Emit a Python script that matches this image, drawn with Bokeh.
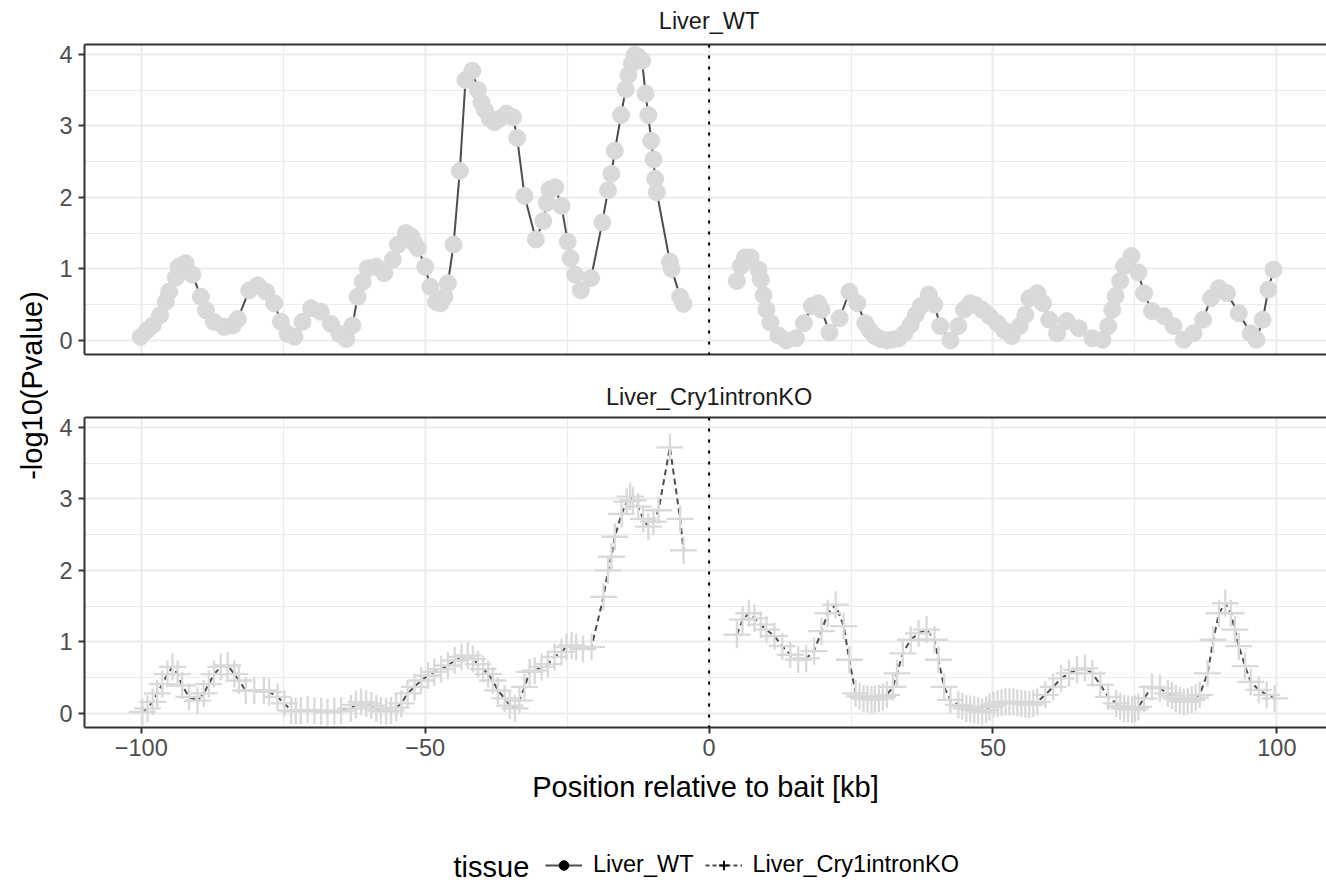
import math
from bokeh.plotting import figure
from bokeh.layouts import column, row
from bokeh.models import (Range1d, FixedTicker, LinearAxis, Grid, Span, Legend,
                          LegendItem, Label, CustomJSTickFormatter)
from bokeh.embed import file_html
from bokeh.resources import INLINE
from bokeh.core.properties import value

FONT = "Liberation Sans"

# ---------------- data ----------------
wt_pos = [-100.1, -99.0, -98.0, -96.7, -95.7, -95.1, -93.9, -93.4, -92.2, -91.0,
          -89.5, -88.6, -87.2, -85.4, -83.9, -83.0, -81.0, -79.5, -78.0, -76.6,
          -75.4, -74.2, -73.0, -71.6, -70.1, -68.4, -66.6, -65.1, -63.9, -62.8,
          -61.9, -61.0, -60.1, -58.6, -57.2, -55.7, -54.8, -53.4, -52.4, -51.9,
          -51.3, -50.0, -49.1, -48.1, -47.3, -46.6, -46.0, -45.0, -43.9, -42.9,
          -41.7, -40.7, -40.1, -39.5, -38.6, -37.8, -36.9, -35.7, -34.5, -33.8,
          -32.5, -30.5, -29.2, -28.6, -28.1, -27.1, -26.0, -24.9, -24.4, -23.6,
          -22.6, -20.8, -18.8, -17.8, -17.2, -16.6, -15.5, -14.7, -14.2, -13.6,
          -13.1, -12.5, -11.8, -11.2, -10.7, -10.2, -9.8, -9.5, -9.2, -6.9,
          -6.6, -5.1, -4.5,
          4.9, 5.6, 6.3, 7.3, 8.7, 9.1, 9.6, 10.1, 10.8, 12.2,
          13.6, 15.3, 16.7, 18.1, 19.2, 19.8, 21.2, 23.0, 24.7, 26.1,
          27.5, 28.3, 29.2, 30.2, 31.3, 32.3, 33.4, 34.4, 35.5, 36.4,
          37.3, 38.7, 39.7, 40.7, 42.5, 43.9, 44.9, 46.0, 47.0, 48.1,
          49.4, 50.8, 52.0, 53.3, 54.7, 55.7, 56.4, 57.8, 58.8, 59.9,
          61.3, 63.0, 65.1, 67.5, 69.3, 70.3, 71.0, 71.6, 72.4, 73.1,
          74.4, 75.6, 76.6, 78.0, 80.1, 81.8, 83.6, 85.3, 87.0, 88.4,
          89.8, 91.2, 93.3, 95.4, 96.4, 97.5, 98.5, 99.4]
wt_val = [0.05, 0.14, 0.21, 0.35, 0.54, 0.68, 0.88, 1.03, 1.08, 0.92,
          0.61, 0.42, 0.26, 0.19, 0.21, 0.30, 0.70, 0.77, 0.68, 0.52,
          0.26, 0.09, 0.05, 0.26, 0.45, 0.40, 0.23, 0.09, 0.02, 0.21,
          0.61, 0.82, 1.01, 1.03, 0.94, 1.13, 1.34, 1.50, 1.45, 1.36,
          1.29, 1.03, 0.75, 0.54, 0.52, 0.61, 0.80, 1.34, 2.37, 3.64,
          3.77, 3.50, 3.33, 3.22, 3.10, 3.05, 3.10, 3.17, 3.12, 2.83,
          2.02, 1.41, 1.67, 1.92, 2.11, 2.14, 1.88, 1.38, 1.15, 0.92,
          0.70, 0.87, 1.65, 2.10, 2.33, 2.65, 3.15, 3.51, 3.71, 3.87,
          3.99, 3.97, 3.91, 3.45, 3.15, 2.79, 2.53, 2.26, 2.07, 1.10,
          1.00, 0.61, 0.51,
          0.83, 1.04, 1.16, 1.16, 0.99, 0.85, 0.63, 0.43, 0.25, 0.07,
          0.00, 0.03, 0.24, 0.48, 0.52, 0.43, 0.11, 0.31, 0.68, 0.52,
          0.24, 0.14, 0.06, 0.02, 0.00, 0.01, 0.03, 0.10, 0.22, 0.36,
          0.48, 0.64, 0.50, 0.20, 0.00, 0.20, 0.43, 0.52, 0.49, 0.43,
          0.34, 0.24, 0.14, 0.06, 0.20, 0.36, 0.59, 0.66, 0.52, 0.29,
          0.10, 0.27, 0.17, 0.03, 0.01, 0.20, 0.43, 0.62, 0.83, 1.04,
          1.18, 0.95, 0.66, 0.41, 0.34, 0.20, 0.01, 0.10, 0.29, 0.59,
          0.73, 0.66, 0.38, 0.10, 0.01, 0.29, 0.71, 0.99]

ko_pos = [-99.8, -98.9, -98.0, -97.2, -96.3, -95.4, -94.5, -93.6, -92.8, -91.6,
          -90.1, -89.0, -88.1, -87.2, -86.0, -84.8, -83.6, -82.8, -81.6, -80.1,
          -78.4, -77.5, -76.0, -74.8, -73.6, -72.8, -71.9, -70.7, -69.5, -68.3,
          -67.2, -66.0, -64.8, -63.1, -62.2, -61.3, -60.4, -59.5, -58.6, -57.8,
          -56.9, -56.0, -55.1, -54.2, -53.1, -51.9, -50.7, -49.5, -48.4,
          -47.2, -46.0, -44.8, -43.6, -42.5, -41.6, -40.7, -39.8, -38.9, -38.1,
          -37.2, -36.0, -35.1, -34.2, -33.4, -32.5, -31.6, -30.7, -29.5, -28.4,
          -27.2, -26.0, -25.1, -24.2, -23.4, -22.2, -20.7, -18.6, -17.8, -17.2,
          -16.6, -15.4, -14.5, -13.9, -13.4, -12.5, -11.6, -10.7, -9.8, -8.9,
          -6.9, -5.1, -4.5,
          4.9, 5.9, 7.0, 8.0, 9.1, 10.1, 11.5, 12.9, 14.3, 15.7,
          17.1, 18.5, 19.8, 20.9, 22.3, 23.7, 24.7, 25.8, 26.5, 27.2,
          27.9, 28.6, 29.2, 29.9, 30.6, 31.3, 32.4, 33.1, 34.1, 35.5,
          36.9, 38.3, 39.7, 40.4, 41.4, 42.5, 43.9, 44.6, 45.3, 46.0,
          46.7, 47.4, 48.1, 48.8, 49.4, 50.1, 50.8, 51.5, 52.2, 52.9,
          53.6, 54.3, 55.0, 55.7, 56.4, 57.1, 57.8, 59.2, 60.6, 62.0,
          63.4, 64.8, 66.2, 67.5, 68.9, 70.3, 71.7, 72.4, 73.1, 73.8,
          74.5, 75.0, 75.6, 76.6, 78.0, 79.4, 80.8, 81.5, 82.2, 82.9,
          83.6, 84.3, 85.0, 85.7, 86.4, 87.8, 88.8, 89.8, 90.9, 91.9,
          92.6, 93.3, 94.4, 95.4, 96.8, 98.2, 99.6]
ko_val = [0.02, 0.07, 0.16, 0.28, 0.41, 0.55, 0.65, 0.55, 0.39, 0.23,
          0.18, 0.28, 0.41, 0.55, 0.65, 0.67, 0.55, 0.46, 0.32, 0.32,
          0.32, 0.30, 0.23, 0.14, 0.04, 0.03, 0.04, 0.05, 0.04, 0.03,
          0.02, 0.03, 0.04, 0.07, 0.12, 0.16, 0.14, 0.11, 0.07, 0.04,
          0.03, 0.04, 0.08, 0.14, 0.28, 0.37, 0.46, 0.53, 0.58,
          0.62, 0.67, 0.74, 0.79, 0.81, 0.76, 0.69, 0.62, 0.55, 0.46,
          0.32, 0.21, 0.11, 0.07, 0.18, 0.37, 0.58, 0.60, 0.65, 0.69,
          0.79, 0.86, 0.93, 0.95, 0.93, 0.90, 0.93, 1.63, 2.00, 2.19,
          2.47, 2.79, 2.96, 3.03, 2.98, 2.89, 2.72, 2.61, 2.68, 2.84,
          3.72, 2.72, 2.28,
          1.10, 1.31, 1.40, 1.33, 1.24, 1.17, 1.08, 0.94, 0.82, 0.75,
          0.77, 0.87, 1.15, 1.40, 1.52, 1.22, 0.75, 0.28, 0.24, 0.21,
          0.20, 0.19, 0.20, 0.21, 0.23, 0.26, 0.37, 0.56, 0.84, 1.03,
          1.12, 1.17, 1.03, 0.75, 0.37, 0.19, 0.12, 0.10, 0.07, 0.06,
          0.05, 0.04, 0.02, 0.05, 0.09, 0.12, 0.14, 0.15, 0.16, 0.16,
          0.16, 0.15, 0.14, 0.13, 0.12, 0.14, 0.16, 0.26, 0.37, 0.49,
          0.56, 0.61, 0.63, 0.56, 0.40, 0.23, 0.14, 0.10, 0.07, 0.06,
          0.05, 0.06, 0.09, 0.21, 0.37, 0.35, 0.28, 0.25, 0.21, 0.18,
          0.16, 0.17, 0.19, 0.22, 0.26, 0.56, 1.03, 1.40, 1.54, 1.40,
          1.17, 0.94, 0.66, 0.44, 0.33, 0.26, 0.21]

panel_names = ["Liver_WT", "Liver_Cry1intronKO"]
x_ticks = [-100, -50, 0, 50, 100]
x_minor = [-75, -25, 25, 75]
y_ticks = [0, 1, 2, 3, 4]
y_minor = [0.5, 1.5, 2.5, 3.5]

# ---------------- styling ----------------
PT_COLOR = "#D9D9D9"
LINE_COLOR = "#4D4D4D"
BORDER = "#333333"
GRID = "#EBEBEB"
SMALL = "23.5px"
BIG = "29px"

LEFT_W = 48          # width of the y-title column
PANEL_W = 1278       # panel figure width
B_LEFT = 36
PX_PER_KB = 5.678
X_START = -110.0
X_END = X_START + (PANEL_W - B_LEFT) / PX_PER_KB
Y_START, Y_END = -0.197, 4.137
X_RANGE = Range1d(X_START, X_END)

minus_fmt = CustomJSTickFormatter(code="return tick < 0 ? '\u2212' + Math.abs(tick) : String(tick);")


def make_strip(name, height, mid):
    s = figure(width=PANEL_W, height=height, output_backend="svg", toolbar_location=None,
               x_range=X_RANGE, y_range=Range1d(0, height), min_border_left=B_LEFT,
               min_border_right=0, min_border_top=0, min_border_bottom=0,
               x_axis_type=None, y_axis_type=None, outline_line_color=None)
    s.text(x=[0], y=[mid], text=[name], text_align="center", text_baseline="middle",
           text_font=value(FONT), text_font_size=SMALL, text_color="#1A1A1A")
    return s


def make_panel(height, b_bottom, show_x):
    p = figure(width=PANEL_W, height=height, output_backend="svg", toolbar_location=None,
               x_range=X_RANGE, y_range=Range1d(Y_START, Y_END),
               min_border_left=B_LEFT, min_border_right=0, min_border_top=2,
               min_border_bottom=b_bottom, x_axis_type=None, y_axis_type=None,
               outline_line_color=None, background_fill_color="white")
    xt = FixedTicker(ticks=x_ticks, minor_ticks=x_minor)
    yt = FixedTicker(ticks=y_ticks, minor_ticks=y_minor)
    for dim, t in ((0, xt), (1, yt)):
        g = Grid(dimension=dim, ticker=t, grid_line_color=GRID, grid_line_width=2,
                 minor_grid_line_color=GRID, minor_grid_line_width=1.2, level="underlay")
        p.add_layout(g)

    yax = LinearAxis(ticker=yt, axis_line_color=BORDER, axis_line_width=2,
                     major_tick_line_color=BORDER, major_tick_line_width=2,
                     major_tick_in=0, major_tick_out=6, minor_tick_line_color=None,
                     major_label_standoff=6, major_label_text_font=FONT,
                     major_label_text_font_size=SMALL, major_label_text_color="#4D4D4D")
    p.add_layout(yax, "left")
    top_ax = LinearAxis(ticker=FixedTicker(ticks=[]), axis_line_color=BORDER, axis_line_width=2,
                        major_tick_line_color=None, minor_tick_line_color=None,
                        major_tick_out=0, major_tick_in=0, major_label_standoff=0)
    p.add_layout(top_ax, "above")
    if show_x:
        xax = LinearAxis(ticker=xt, formatter=minus_fmt, axis_line_color=BORDER, axis_line_width=2,
                         major_tick_line_color=BORDER, major_tick_line_width=2,
                         major_tick_in=0, major_tick_out=6, minor_tick_line_color=None,
                         major_label_standoff=5, major_label_text_font=FONT,
                         major_label_text_font_size=SMALL, major_label_text_color="#4D4D4D",
                         axis_label="Position relative to bait [kb]", axis_label_text_font=FONT,
                         axis_label_text_font_size=BIG, axis_label_text_font_style="normal",
                         axis_label_text_color="black", axis_label_standoff=12)
    else:
        xax = LinearAxis(ticker=FixedTicker(ticks=[]), axis_line_color=BORDER, axis_line_width=2,
                         major_tick_line_color=None, minor_tick_line_color=None)
    p.add_layout(xax, "below")

    p.add_layout(Span(location=0, dimension="height", line_color="black",
                      line_width=2, line_dash="3 8"))
    return p


def draw_series(p, xs, ys, dash, marker, size, lw):
    pts = sorted(zip(xs, ys))
    # the series is broken at the bait (no line across x = 0)
    for side in (-1, 1):
        seg = [(x, y) for x, y in pts if x * side > 0]
        p.line([x for x, _ in seg], [y for _, y in seg], line_color=LINE_COLOR,
               line_width=2, line_dash=dash)
    if marker == "circle":
        p.scatter(xs, ys, marker="circle", size=size, fill_color=PT_COLOR, line_color=PT_COLOR)
    else:
        p.scatter(xs, ys, marker=marker, size=size, line_color=PT_COLOR, line_width=lw)


strip1 = make_strip(panel_names[0], 42, 22)
top = make_panel(343, 31, False)
draw_series(top, wt_pos, wt_val, "solid", "circle", 17, 1)

strip2 = make_strip(panel_names[1], 30, 19)
bot = make_panel(405, 93, True)
draw_series(bot, ko_pos, ko_val, "6 4", "cross", 27, 2.3)

# y-axis title
LAB_H = 42 + 343 + 30 + 405
lab = figure(width=LEFT_W, height=LAB_H, output_backend="svg", toolbar_location=None,
             x_range=Range1d(0, LEFT_W), y_range=Range1d(0, LAB_H), min_border=0,
             x_axis_type=None, y_axis_type=None, outline_line_color=None)
lab.text(x=[31], y=[LAB_H - 385], text=["-log10(Pvalue)"], angle=math.pi / 2, text_align="center",
         text_baseline="middle", text_font=value(FONT), text_font_size=BIG, text_color="black")

# legend
LEG_W, LEG_H = LEFT_W + PANEL_W, 63
leg = figure(width=LEG_W, height=LEG_H, output_backend="svg", toolbar_location=None,
             x_range=Range1d(0, LEG_W), y_range=Range1d(0, LEG_H), min_border=0,
             x_axis_type=None, y_axis_type=None, outline_line_color=None)
r1 = leg.line([0, 1], [0, 0], line_color=LINE_COLOR, line_width=2, visible=False)
r2 = leg.scatter([0], [0], marker="circle", size=12, fill_color="black", line_color="black", visible=False)
r3 = leg.line([0, 1], [0, 0], line_color=LINE_COLOR, line_width=2, line_dash="4 3", visible=False)
r4 = leg.scatter([0], [0], marker="cross", size=19, line_color="black", line_width=2, visible=False)
legend = Legend(items=[LegendItem(label=panel_names[0], renderers=[r1, r2]),
                       LegendItem(label=panel_names[1], renderers=[r3, r4])],
                orientation="horizontal", location=(545, 5), padding=0, margin=0,
                glyph_width=37, glyph_height=24, label_height=24, label_standoff=11, spacing=11,
                label_text_font=FONT, label_text_font_size=SMALL, label_text_color="black",
                background_fill_alpha=0, border_line_color=None)
leg.add_layout(legend)
leg.add_layout(Label(x=453, y=17, text="tissue", text_align="left", text_baseline="middle",
                     text_font=FONT, text_font_size=BIG, text_color="black"))

layout = column(row(lab, column(strip1, top, strip2, bot)), leg)
open("out.html", "w").write(file_html(layout, INLINE))
